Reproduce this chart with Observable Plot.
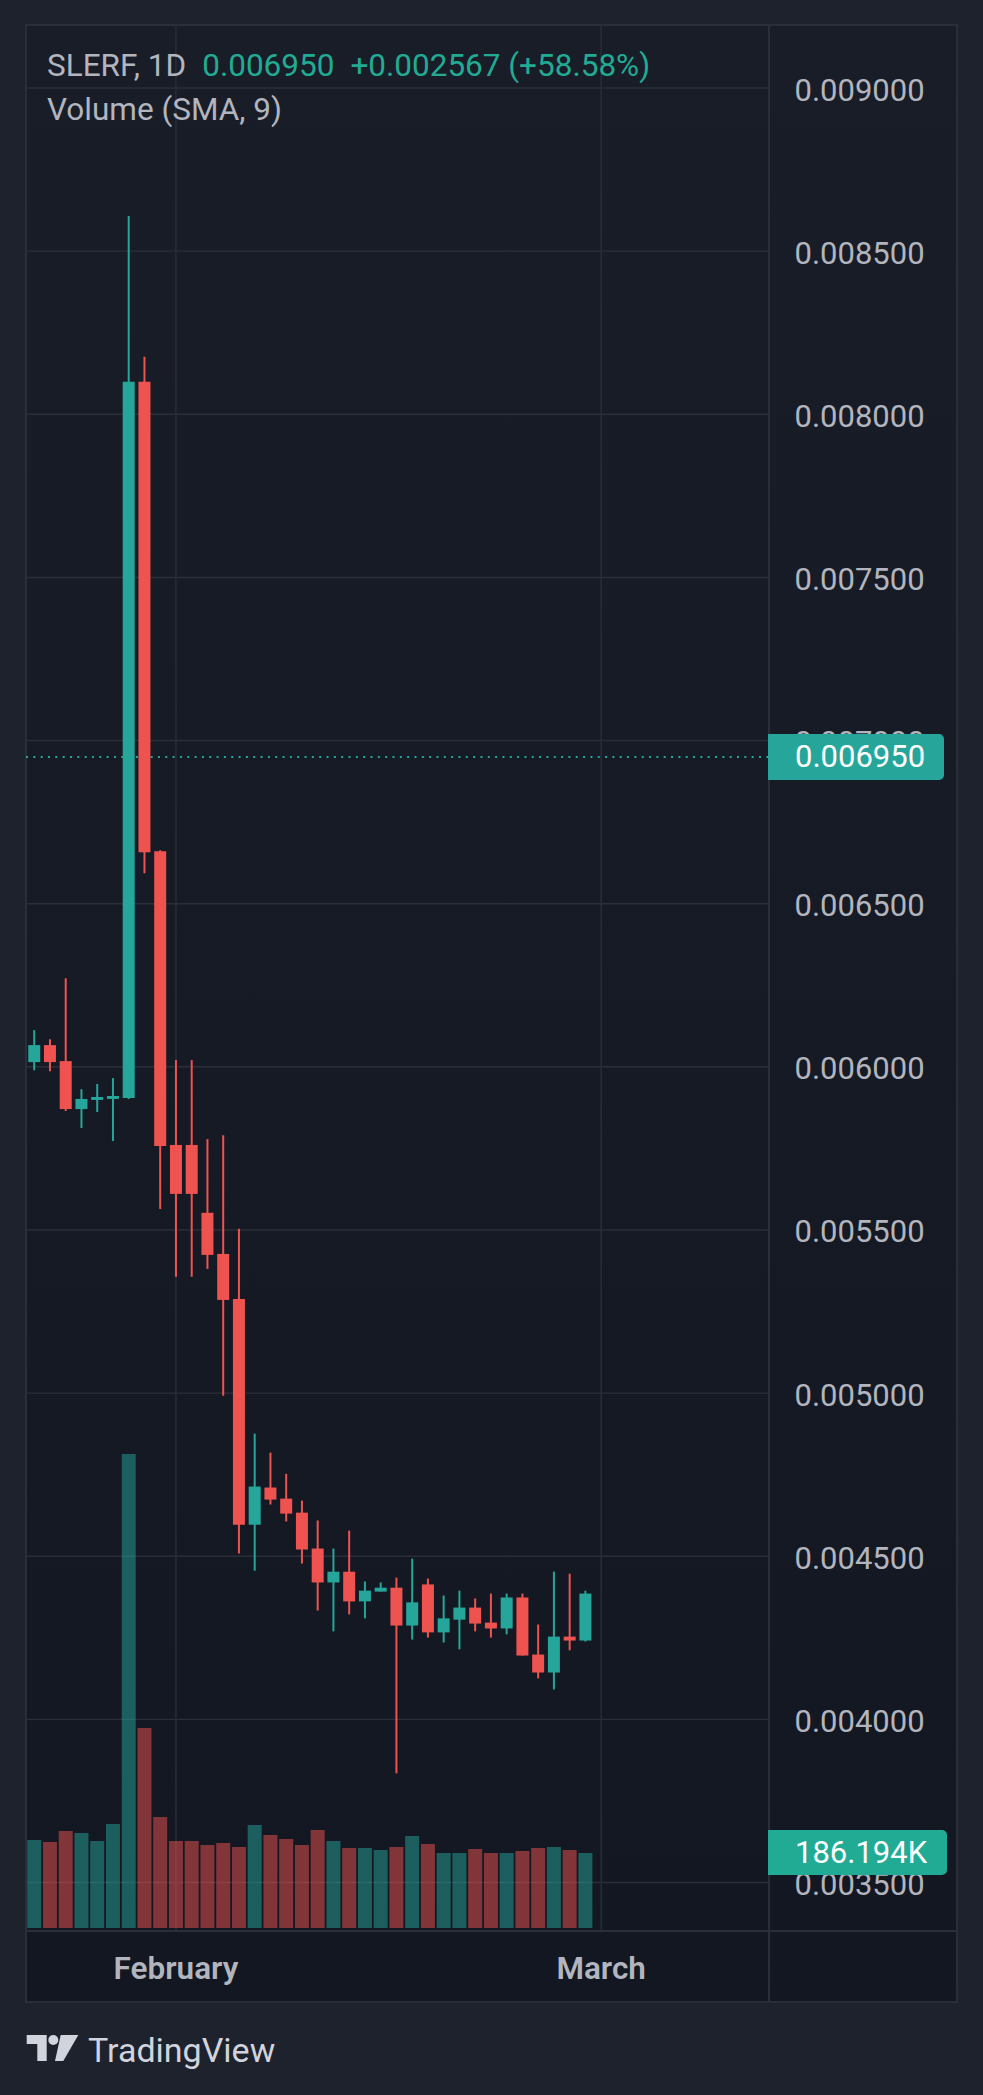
<!DOCTYPE html>
<html>
<head>
<meta charset="utf-8">
<script src="https://cdn.jsdelivr.net/npm/d3@7"></script>
<script src="https://cdn.jsdelivr.net/npm/@observablehq/plot@0.6"></script>
<style>
  html, body { margin: 0; padding: 0; background: #1e222d; }
  #page { position: relative; width: 983px; height: 2095px; background: #1e222d; overflow: hidden; font-family: Roboto, "Noto Sans", sans-serif; }
  #frame { position: absolute; left: 25px; top: 24px; width: 933px; height: 1979px; box-sizing: border-box; border: 2px solid #2a2e39; background: linear-gradient(#191d28, #131722); }
  .vline { position: absolute; left: 767.5px; top: 24px; width: 2px; height: 1979px; background: #2a2e39; }
  .hline { position: absolute; left: 25px; top: 1929.5px; width: 933px; height: 2px; background: #2a2e39; }
  .layer { position: absolute; left: 0; top: 0; }
  .legend { position: absolute; left: 47px; font-size: 31.5px; line-height: 31.5px; color: #b2b5be; white-space: nowrap; }
  .legend .up { color: #22ab94; margin-left: 16px; }
  .pricebox { position: absolute; left: 768px; width: 176px; height: 46px; line-height: 46px; box-sizing: border-box; padding-left: 27px; color: #ffffff; font-size: 31px; border-radius: 0 5px 5px 0; white-space: nowrap; }
  .brand { position: absolute; left: 88px; top: 2033px; font-size: 34px; line-height: 34px; color: #d1d4dc; }
  .logo { position: absolute; left: 26px; top: 2035px; }
</style>
</head>
<body>
<div id="page">
  <div id="frame"></div>
</div>
<script>
// ---------- data ----------
const symbolLabel = "SLERF, 1D";
const lastPrice = 0.006950;
const changeLabel = "+0.002567 (+58.58%)";
const volumeLegend = "Volume (SMA, 9)";
const lastVolumeLabel = "186.194K";

const opens  = [0.006013,0.006065,0.006016,0.005869,0.005897,0.005900,0.005903,0.008098,0.006659,0.005759,0.005759,0.005551,0.005425,0.005287,0.004595,0.004709,0.004675,0.004632,0.004522,0.004418,0.004451,0.004360,0.004390,0.004402,0.004286,0.004412,0.004265,0.004304,0.004341,0.004295,0.004277,0.004372,0.004197,0.004142,0.004252,0.004240];
const highs  = [0.006111,0.006083,0.006270,0.005930,0.005946,0.005964,0.008606,0.008175,0.006662,0.006019,0.006019,0.005777,0.005789,0.005502,0.004874,0.004816,0.004751,0.004669,0.004608,0.004522,0.004577,0.004421,0.004418,0.004433,0.004491,0.004430,0.004378,0.004393,0.004369,0.004384,0.004384,0.004384,0.004289,0.004451,0.004445,0.004393];
const lows   = [0.005988,0.005985,0.005863,0.005811,0.005860,0.005771,0.005900,0.006592,0.005563,0.005355,0.005355,0.005379,0.004990,0.004507,0.004454,0.004657,0.004605,0.004476,0.004332,0.004268,0.004320,0.004308,0.004390,0.003833,0.004243,0.004249,0.004234,0.004213,0.004268,0.004249,0.004259,0.004194,0.004124,0.004090,0.004210,0.004237];
const closes = [0.006065,0.006013,0.005869,0.005900,0.005906,0.005909,0.008098,0.006656,0.005756,0.005609,0.005609,0.005422,0.005284,0.004595,0.004712,0.004672,0.004629,0.004519,0.004418,0.004451,0.004360,0.004393,0.004402,0.004286,0.004357,0.004265,0.004308,0.004341,0.004292,0.004277,0.004372,0.004194,0.004142,0.004252,0.004240,0.004384];
const volumes = [218500,213500,240800,235800,216000,258200,1176800,496500,275600,216000,216000,206100,211000,201100,255700,230900,221000,206100,243300,216000,198600,198600,193600,201100,228400,208500,186200,186200,196100,186200,186200,191200,198600,201100,193600,186194];

const timeTickIndex  = [9, 36];
const timeTickLabels = ["February", "March"];
const priceTicks = [0.0035,0.004,0.0045,0.005,0.0055,0.006,0.0065,0.007,0.0075,0.008,0.0085,0.009];

// ---------- build ----------
const UP = "#26a69a", DOWN = "#ef5350";
const candles = opens.map((o, i) => ({
  i, o, h: highs[i], l: lows[i], c: closes[i], v: volumes[i], up: closes[i] >= o
}));

const W = 983, H = 2002;
const xDomain = [-0.49, 46.69];
const common = { width: W, height: H, marginLeft: 26, marginRight: 214 };

const page = document.getElementById("page");

const main = Plot.plot({
  ...common,
  marginTop: 25,
  marginBottom: 72,
  style: { background: "transparent", color: "#b2b5be", fontFamily: "Roboto", fontSize: "31px", overflow: "visible" },
  x: { type: "linear", domain: xDomain, label: null },
  y: { type: "linear", domain: [0.0033528, 0.0091917], label: null },
  marks: [
    Plot.gridY(priceTicks, { stroke: "#2a2e39", strokeOpacity: 1, strokeWidth: 1.4 }),
    Plot.gridX(timeTickIndex, { stroke: "#2a2e39", strokeOpacity: 1, strokeWidth: 1.4 }),
    Plot.ruleY([lastPrice], { stroke: UP, strokeWidth: 2, strokeDasharray: "2,5.33" }),
    Plot.ruleX(candles, { x: "i", y1: "l", y2: "h", stroke: d => d.up ? UP : DOWN, strokeWidth: 2 }),
    Plot.ruleX(candles, { x: "i", y1: "o", y2: "c", stroke: d => d.up ? UP : DOWN, strokeWidth: 12, strokeLinecap: "butt" }),
    Plot.axisY({ anchor: "right", ticks: priceTicks, tickFormat: d3.format(".6f"), tickSize: 0, tickPadding: 25, dy: 2.6,
                 fill: "#b2b5be", fontSize: 31, fontFamily: "Roboto", label: null }),
    Plot.axisX({ anchor: "bottom", ticks: timeTickIndex, tickFormat: d => timeTickLabels[timeTickIndex.indexOf(d)],
                 tickSize: 0, tickPadding: 26.5, fill: "#b2b5be", fontSize: 31.5, fontWeight: 600, fontFamily: "Roboto", label: null })
  ]
});
main.classList.add("layer");
page.appendChild(main);

const vol = Plot.plot({
  ...common,
  marginTop: 1454,
  marginBottom: 74,
  style: { background: "transparent", overflow: "visible" },
  x: { type: "linear", domain: xDomain, axis: null },
  y: { type: "linear", domain: [0, d3.max(volumes)], axis: null },
  marks: [
    Plot.ruleX(candles, { x: "i", y1: 0, y2: "v", stroke: d => d.up ? UP : DOWN, strokeOpacity: 0.5, strokeWidth: 14, strokeLinecap: "butt" })
  ]
});
vol.classList.add("layer");
page.appendChild(vol);

// frame dividers
const vline = document.createElement("div"); vline.className = "vline"; page.appendChild(vline);
const hline = document.createElement("div"); hline.className = "hline"; page.appendChild(hline);

// legend
const l1 = document.createElement("div");
l1.className = "legend"; l1.style.top = "50.2px";
l1.innerHTML = `${symbolLabel}<span class="up">${d3.format(".6f")(lastPrice)}</span><span class="up">${changeLabel}</span>`;
page.appendChild(l1);
const l2 = document.createElement("div");
l2.className = "legend"; l2.style.top = "94.2px";
l2.textContent = volumeLegend;
page.appendChild(l2);

// price & volume labels positioned via the plots' scales
const yP = main.scale("y"), yV = vol.scale("y");
const pb = document.createElement("div");
pb.className = "pricebox"; pb.style.background = UP;
pb.style.top = (yP.apply(lastPrice) - 22.5) + "px";
pb.textContent = d3.format(".6f")(lastPrice);
page.appendChild(pb);
const vb = document.createElement("div");
vb.className = "pricebox"; vb.style.background = "#22ab94"; vb.style.width = "179px"; vb.style.height = "45px"; vb.style.lineHeight = "45px";
vb.style.top = (yV.apply(volumes[volumes.length - 1]) - 23) + "px";
vb.textContent = lastVolumeLabel;
page.appendChild(vb);

// TradingView brand
const logo = document.createElementNS("http://www.w3.org/2000/svg", "svg");
logo.setAttribute("class", "logo"); logo.setAttribute("width", "54"); logo.setAttribute("height", "27");
logo.innerHTML = `<g fill="#d1d4dc"><path d="M0.7 0H20.7V26H11.3V9H0.7Z"/><circle cx="27.3" cy="5" r="5"/><path d="M34.7 0H52.3L37.3 26H29Z"/></g>`;
page.appendChild(logo);
const brand = document.createElement("div");
brand.className = "brand"; brand.textContent = "TradingView";
page.appendChild(brand);
</script>
</body>
</html>
